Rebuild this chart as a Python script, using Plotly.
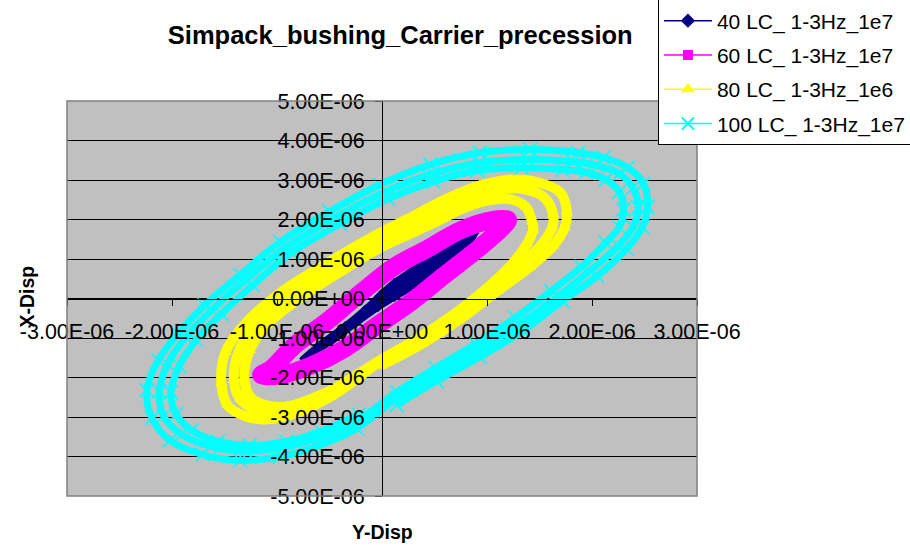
import plotly.graph_objects as go

# All displacement values below are in units of 1e-6
SCALE = 1e-6

SERIES_NAMES = ["40 LC_ 1-3Hz_1e7", "60 LC_ 1-3Hz_1e7", "80 LC_ 1-3Hz_1e6", "100 LC_ 1-3Hz_1e7"]

# ---- 40 LC (navy) : horizontal = Y-Disp, vertical = X-Disp
S40_H = [-0.75, -0.57, -0.35, -0.16, 0.00, 0.12, 0.28, 0.54, 0.76, 0.89,
         0.79, 0.60, 0.38, 0.12, -0.04, -0.26, -0.48, -0.75]
S40_V = [-1.52, -1.10, -0.67, -0.25, 0.16, 0.43, 0.72, 1.15, 1.53, 1.65,
         1.27, 0.85, 0.43, 0.01, -0.25, -0.67, -1.10, -1.52]

# ---- 60 LC (magenta)
S60_H = [1.06, 0.76, 0.44, 0.12, -0.19, -0.51, -0.83, -1.05, -1.15, -0.96,
         -0.67, -0.35, -0.04, 0.28, 0.60, 0.92, 1.14, 1.20, 1.06]
S60_V = [1.99, 1.74, 1.27, 0.81, 0.17, -0.55, -1.18, -1.77, -1.94, -1.94,
         -1.69, -1.26, -0.67, -0.08, 0.60, 1.27, 1.78, 1.99, 1.99]

# ---- 80 LC (yellow), three successive loops (each starts on the lower band)
S80_LOOP1_H = [-0.02, 0.39, 0.77, 1.10, 1.41, 1.63, 1.74, 1.76, 1.70, 1.50, 1.24, 0.93, 0.62, 0.30, -0.02,
               -0.50, -0.97, -1.29, -1.49, -1.53, -1.47, -1.30, -1.09, -0.78, -0.50, -0.26]
S80_LOOP1_V = [-1.71, -1.13, -0.47, 0.19, 0.80, 1.33, 1.79, 2.20, 2.68, 2.93, 3.01, 2.86, 2.53, 2.09, 1.66,
               0.93, 0.14, -0.60, -1.36, -2.14, -2.70, -2.98, -3.06, -2.86, -2.50, -2.07]
S80_LOOP2_H = [-0.02, 0.36, 0.74, 1.06, 1.34, 1.53, 1.62, 1.63, 1.55, 1.38, 1.17, 0.91, 0.62, 0.30, -0.02,
               -0.50, -0.92, -1.21, -1.37, -1.41, -1.35, -1.20, -0.99, -0.73, -0.47, -0.24]
S80_LOOP2_V = [-1.59, -1.00, -0.34, 0.27, 0.88, 1.41, 1.79, 2.12, 2.55, 2.75, 2.78, 2.63, 2.30, 1.89, 1.46,
               0.72, -0.04, -0.70, -1.38, -2.07, -2.55, -2.81, -2.86, -2.68, -2.35, -1.94]
S80_LOOP3_H = [0.03, 0.36, 0.70, 0.98, 1.22, 1.38, 1.44, 1.43, 1.37, 1.24, 1.05, 0.79, 0.55, 0.27, -0.02,
               -0.40, -0.78, -1.07, -1.26, -1.31, -1.26, -1.11, -0.90, -0.66, -0.40, -0.19]
S80_LOOP3_V = [-1.48, -0.98, -0.37, 0.22, 0.82, 1.38, 1.74, 1.94, 2.32, 2.50, 2.50, 2.30, 1.99, 1.64, 1.28,
               0.67, 0.01, -0.60, -1.31, -2.02, -2.47, -2.70, -2.73, -2.53, -2.20, -1.84]

# ---- 100 LC (cyan), three successive loops (each starts on the lower-right band)
S100_LOOP1_H = [0.14, 0.52, 0.93, 1.34, 1.72, 2.05, 2.33, 2.48, 2.53, 2.49, 2.34, 2.11, 1.87, 1.41, 0.93,
                0.46, -0.02, -0.50, -0.97, -1.35, -1.69, -1.94, -2.13, -2.24, -2.19, -2.02, -1.71, -1.35,
                -0.97, -0.62, -0.24]
S100_LOOP1_V = [-2.70, -2.09, -1.48, -0.82, -0.06, 0.57, 1.26, 1.81, 2.32, 2.91, 3.31, 3.57, 3.69, 3.77, 3.69,
                3.39, 2.88, 2.20, 1.43, 0.60, -0.17, -0.88, -1.56, -2.32, -3.03, -3.59, -3.95, -4.10,
                -4.00, -3.74, -3.29]
S100_LOOP2_H = [0.14, 0.52, 0.91, 1.31, 1.68, 1.98, 2.25, 2.39, 2.44, 2.39, 2.26, 2.05, 1.82, 1.39, 0.93,
                0.48, 0.03, -0.45, -0.92, -1.30, -1.62, -1.87, -2.04, -2.12, -2.08, -1.91, -1.64, -1.30,
                -0.94, -0.60, -0.23]
S100_LOOP2_V = [-2.53, -1.92, -1.31, -0.65, 0.06, 0.70, 1.33, 1.81, 2.30, 2.80, 3.16, 3.36, 3.46, 3.52, 3.44,
                3.16, 2.70, 2.04, 1.28, 0.47, -0.29, -0.98, -1.66, -2.35, -2.98, -3.44, -3.74, -3.87,
                -3.77, -3.52, -3.08]
S100_LOOP3_H = [0.14, 0.51, 0.89, 1.27, 1.61, 1.90, 2.13, 2.26, 2.30, 2.26, 2.13, 1.94, 1.72, 1.33, 0.91,
                0.49, 0.06, -0.40, -0.86, -1.23, -1.53, -1.77, -1.93, -2.01, -1.96, -1.81, -1.56, -1.26,
                -0.91, -0.58, -0.22]
S100_LOOP3_V = [-2.37, -1.76, -1.15, -0.49, 0.19, 0.80, 1.41, 1.81, 2.25, 2.70, 3.01, 3.19, 3.26, 3.31, 3.24,
                2.96, 2.53, 1.89, 1.16, 0.34, -0.39, -1.05, -1.71, -2.37, -2.93, -3.34, -3.62, -3.72,
                -3.62, -3.36, -2.93]

X_TICKS = [-3, -2, -1, 0, 1, 2, 3]
X_TICK_LABELS = ["-3.00E-06", "-2.00E-06", "-1.00E-06", "0.00E+00", "1.00E-06", "2.00E-06", "3.00E-06"]
Y_TICKS = [-5, -4, -3, -2, -1, 0, 1, 2, 3, 4, 5]
Y_TICK_LABELS = ["-5.00E-06", "-4.00E-06", "-3.00E-06", "-2.00E-06", "-1.00E-06", "0.00E+00",
                 "1.00E-06", "2.00E-06", "3.00E-06", "4.00E-06", "5.00E-06"]

NAVY, MAGENTA, YELLOW, CYAN = "#000080", "#FF00FF", "#FFFF00", "#00FFFF"
FONT = "Liberation Sans, Arial, sans-serif"


def sc(v):
    return [a * SCALE for a in v]


fig = go.Figure()

# 40 LC
fig.add_trace(go.Scatter(
    x=sc(S40_H), y=sc(S40_V), mode="lines+markers", fill="toself", fillcolor=NAVY,
    line=dict(color=NAVY, width=5, shape="spline"),
    marker=dict(symbol="diamond", size=6, color=NAVY), showlegend=False, hoverinfo="skip"))

# 60 LC
fig.add_trace(go.Scatter(
    x=sc(S60_H), y=sc(S60_V), mode="lines+markers",
    line=dict(color=MAGENTA, width=18, shape="spline"),
    marker=dict(symbol="square", size=9, color=MAGENTA), showlegend=False, hoverinfo="skip"))

# 80 LC
fig.add_trace(go.Scatter(
    x=sc(S80_LOOP1_H + S80_LOOP2_H + S80_LOOP3_H), y=sc(S80_LOOP1_V + S80_LOOP2_V + S80_LOOP3_V),
    mode="lines+markers", line=dict(color=YELLOW, width=10, shape="spline"),
    marker=dict(symbol="triangle-up", size=11, color=YELLOW), showlegend=False, hoverinfo="skip"))

# 100 LC
fig.add_trace(go.Scatter(
    x=sc(S100_LOOP1_H + S100_LOOP2_H + S100_LOOP3_H), y=sc(S100_LOOP1_V + S100_LOOP2_V + S100_LOOP3_V),
    mode="lines+markers", line=dict(color=CYAN, width=7, shape="spline"),
    marker=dict(symbol="x-thin", size=14, color=CYAN, line=dict(color=CYAN, width=1.6)),
    showlegend=False, hoverinfo="skip"))

# legend entries
legend_styles = [
    (NAVY, dict(symbol="diamond", size=11, color=NAVY)),
    (MAGENTA, dict(symbol="square", size=10, color=MAGENTA)),
    (YELLOW, dict(symbol="triangle-up", size=12, color=YELLOW)),
    (CYAN, dict(symbol="x-thin", size=12, color=CYAN, line=dict(color=CYAN, width=2))),
]
for i, (name, (col, mk)) in enumerate(zip(SERIES_NAMES, legend_styles)):
    fig.add_trace(go.Scatter(x=[None], y=[None], mode="lines+markers", name=name,
                             legendgroup=f"g{i}", line=dict(color=col, width=1.5), marker=mk))

fig.update_layout(
    width=910, height=546,
    margin=dict(l=67, r=213, t=101, b=50, autoexpand=False),
    paper_bgcolor="white", plot_bgcolor="#C0C0C0",
    font=dict(family=FONT, color="black"),
    title=dict(text="<b>Simpack_bushing_Carrier_precession</b>", xref="paper", x=0.529, xanchor="center",
               yref="container", y=1 - 35 / 546, yanchor="middle", font=dict(size=25.5, family=FONT)),
    xaxis=dict(range=[-3e-6, 3e-6], tickvals=sc(X_TICKS), ticktext=X_TICK_LABELS,
               anchor="free", position=0.5, showgrid=False, zeroline=False,
               showline=True, linecolor="black", linewidth=1,
               ticks="outside", ticklen=6, tickcolor="black", tickwidth=1,
               tickfont=dict(size=21.5, family=FONT), ticklabelstandoff=8,
               automargin=False, fixedrange=True),
    yaxis=dict(range=[-5e-6, 5e-6], tickvals=sc(Y_TICKS), ticktext=Y_TICK_LABELS,
               anchor="free", position=0.5, showgrid=True, gridcolor="black", gridwidth=1,
               zeroline=False, showline=True, linecolor="black", linewidth=1,
               ticks="outside", ticklen=7, tickcolor="black", tickwidth=1,
               tickfont=dict(size=21.5, family=FONT), ticklabelstandoff=6,
               automargin=False, fixedrange=True),
    legend=dict(x=0.938, xanchor="left", y=1.257, yanchor="top", bgcolor="white",
                bordercolor="black", borderwidth=1, font=dict(size=21, family=FONT),
                traceorder="grouped", tracegroupgap=4, itemwidth=48),
    shapes=[dict(type="rect", xref="paper", yref="paper", x0=0, x1=1, y0=0, y1=1,
                 line=dict(color="#808080", width=1.5), layer="above")],
    annotations=[
        dict(text="<b>Y-Disp</b>", xref="paper", yref="paper", x=0.5, y=-0.091,
             xanchor="center", yanchor="middle", showarrow=False, font=dict(size=19.5, family=FONT)),
        dict(text="<b>X-Disp</b>", xref="paper", yref="paper", x=-0.0635, y=0.505, textangle=-90,
             xanchor="center", yanchor="middle", showarrow=False, font=dict(size=19.5, family=FONT)),
    ],
)

fig.write_html("out.html", config={"displayModeBar": False},
               post_script="document.body.style.margin='0';document.body.style.overflow='hidden';")
